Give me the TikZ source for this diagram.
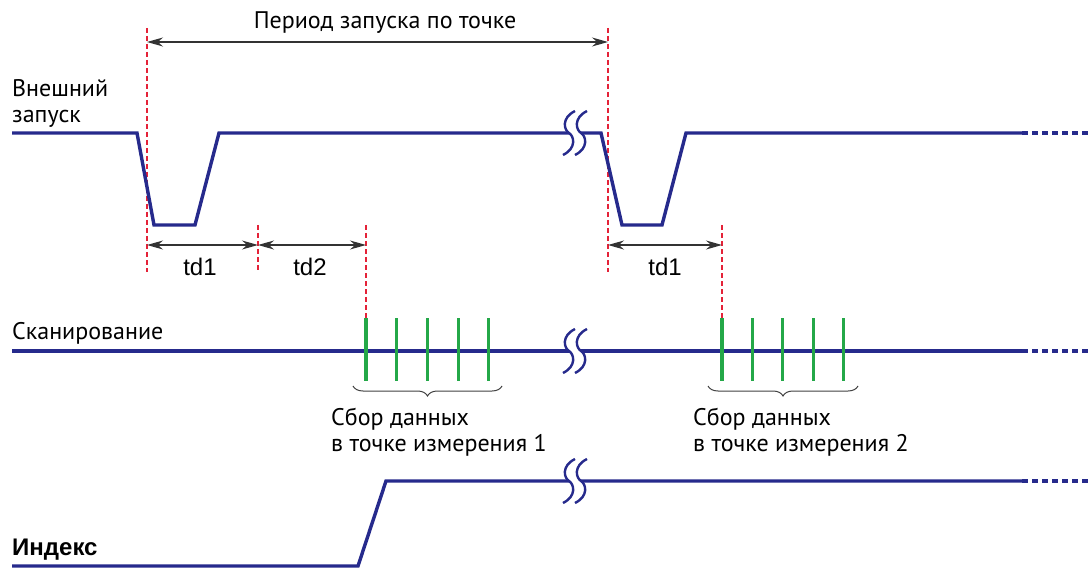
\documentclass[tikz,border=0pt]{standalone}
\usepackage{fontspec}
\setmainfont{PT Sans}
\newfontfamily\arialfont{Liberation Sans}
\usetikzlibrary{arrows.meta,positioning,decorations.pathreplacing}
\definecolor{sigblue}{RGB}{38,42,140}
\definecolor{trigred}{RGB}{228,34,56}
\definecolor{scangreen}{RGB}{36,168,72}

\begin{document}
\begin{tikzpicture}[x=1pt, y=-1pt,
  sig/.style={sigblue, line width=3.4pt},
  cont/.style={sigblue, line width=3.4pt, dash pattern=on 6pt off 4pt},
  trig/.style={trigred, line width=1.8pt, dash pattern=on 5pt off 3pt},
  pulse/.style={scangreen, line width=3.2pt},
  dim/.style={{Stealth[length=16pt,width=9pt]}-{Stealth[length=16pt,width=9pt]}, line width=1.3pt, black!80},
  lbl/.style={font=\fontsize{24}{26}\selectfont, inner sep=0pt, align=left},
  tdlbl/.style={font=\arialfont\fontsize{24}{26}\selectfont, inner sep=0pt},
  brk/.pic={
    \fill[white] (-6,-20) rectangle (6,20);
    \foreach \d in {-6,6}
      \draw[sigblue, line width=2.4pt] (\d+6,-22) .. controls (\d-8,-15) and (\d-5,-3) .. (\d,0)
        .. controls (\d+5,3) and (\d+8,15) .. (\d-6,22);
  }]
\useasboundingbox (0,0) rectangle (1091,569);

% trigger lines
\coordinate (r1t) at (147,28);   \coordinate (r1b) at (147,272);
\coordinate (r2t) at (258,225);  \coordinate (r2b) at (258,272);
\coordinate (r3t) at (366,225);  \coordinate (r3b) at (366,318);
\coordinate (r4t) at (608,28);   \coordinate (r4b) at (608,272);
\coordinate (r5t) at (722,225);  \coordinate (r5b) at (722,318);
\foreach \a in {r1,r2,r3,r4,r5}
  \draw[trig] (\a t) -- (\a b);

% period
\coordinate (pa) at (147,42);
\coordinate (pb) at (608,42);
\draw[dim] (pa) -- (pb);
\node[lbl] (period) at (385,23) {Период запуска по точке};

% external trigger
\node[lbl, anchor=west] (ext) at (12,103) {Внешний\\запуск};
\draw[sig] (12,133) -- (137,133) -- (154,225) -- (195,225) -- (219,133) -- (601,133)
  -- (622,225) -- (662,225) -- (686,133) -- (1022,133);
\draw[cont] (1022,133) -- (1091,133);
\pic at (575,133) {brk};

% delays
\coordinate (d1) at (147,245); \coordinate (d2) at (258,245); \coordinate (d3) at (366,245);
\coordinate (d4) at (608,245); \coordinate (d5) at (722,245);
\draw[dim] (d1) -- (d2);
\draw[dim] (d2) -- (d3);
\draw[dim] (d4) -- (d5);
\node[tdlbl] (td1a) at (200,267) {td1};
\node[tdlbl] (td2) at (310,267) {td2};
\node[tdlbl] (td1b) at (665,267) {td1};

% scan
\node[lbl, anchor=west] (scan) at (12,333) {Сканирование};
\draw[sig] (12,351) -- (1022,351);
\draw[cont] (1022,351) -- (1091,351);
\pic at (575,351) {brk};
\foreach \x in {0,...,4} {
  \draw[pulse] (366+30.7*\x,318) -- (366+30.7*\x,381);
  \draw[pulse] (722+30.4*\x,318) -- (722+30.4*\x,381);
}
\draw[black!75, line width=1pt, decorate, decoration={brace, mirror, amplitude=10pt}] (353,386) -- (502,386);
\draw[black!75, line width=1pt, decorate, decoration={brace, mirror, amplitude=10pt}] (708,386) -- (858,386);
\node[lbl, anchor=west] (acq1) at (331,432) {Сбор данных\\в точке измерения 1};
\node[lbl, anchor=west] (acq2) at (693,432) {Сбор данных\\в точке измерения 2};

% index
\node[anchor=west, inner sep=0pt, font=\arialfont\bfseries\fontsize{24}{26}\selectfont] (idx) at (12,550) {Индекс};
\draw[sig] (12,566) -- (358,566) -- (386,481) -- (1022,481);
\draw[cont] (1022,481) -- (1091,481);
\pic at (575,481) {brk};
\end{tikzpicture}
\end{document}
